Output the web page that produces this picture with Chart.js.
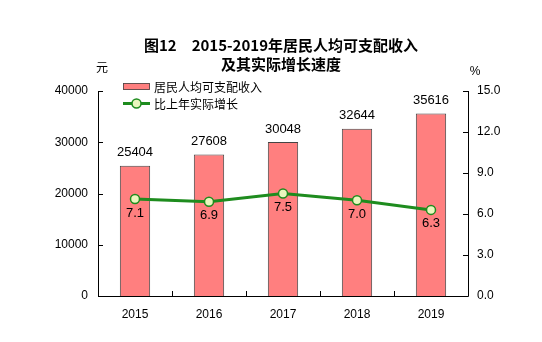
<!DOCTYPE html>
<html>
<head>
<meta charset="utf-8">
<script src="https://cdn.jsdelivr.net/npm/chart.js@4"></script>
<style>
  html, body { margin: 0; padding: 0; background: #fff; }
  #wrap { width: 542px; height: 342px; }
</style>
</head>
<body>
<div id="wrap"><canvas id="c" width="542" height="342"></canvas></div>
<script>
const years = ['2015', '2016', '2017', '2018', '2019'];
const income = [25404, 27608, 30048, 32644, 35616];
const growth = [7.1, 6.9, 7.5, 7.0, 6.3];
const leftTicks = [0, 10000, 20000, 30000, 40000];
const rightTicks = [0, 3, 6, 9, 12, 15];

const titleLines = ['图12　2015-2019年居民人均可支配收入', '及其实际增长速度'];
const legendLabels = ['居民人均可支配收入', '比上年实际增长'];

const BAR_COLOR = '#FF7F7F';
const LINE_COLOR = '#1E8C1E';
const MARKER_FILL = '#EAF7BE';
const NUM_FONT = '"Liberation Sans", Arial, sans-serif';
const CJK_FONT = '"Noto Sans CJK SC", sans-serif';

// Frame, inward tick marks, titles, units, legend and value labels
const decor = {
  id: 'decor',
  afterDatasetsDraw(chart) {
    const ctx = chart.ctx;
    const a = chart.chartArea;
    const x = chart.scales.x, yl = chart.scales.y, yr = chart.scales.y1;
    ctx.save();

    // axis lines
    ctx.strokeStyle = '#000';
    ctx.lineWidth = 1;
    ctx.beginPath();
    ctx.moveTo(Math.round(a.left) + 0.5, a.top);
    ctx.lineTo(Math.round(a.left) + 0.5, Math.round(a.bottom) + 0.5);
    ctx.lineTo(Math.round(a.right) + 0.5, Math.round(a.bottom) + 0.5);
    ctx.lineTo(Math.round(a.right) + 0.5, a.top);
    ctx.stroke();

    // left / right ticks pointing inward
    ctx.beginPath();
    leftTicks.forEach(v => {
      const py = Math.round(yl.getPixelForValue(v)) + 0.5;
      ctx.moveTo(a.left, py); ctx.lineTo(a.left + 5, py);
    });
    rightTicks.forEach(v => {
      const py = Math.round(yr.getPixelForValue(v)) + 0.5;
      ctx.moveTo(a.right, py); ctx.lineTo(a.right - 5, py);
    });
    // x ticks at category boundaries
    for (let i = 1; i < years.length; i++) {
      const px = Math.round((x.getPixelForValue(i - 1) + x.getPixelForValue(i)) / 2) + 0.5;
      ctx.moveTo(px, a.bottom); ctx.lineTo(px, a.bottom - 5);
    }
    ctx.stroke();

    // titles
    ctx.fillStyle = '#000';
    ctx.textAlign = 'center';
    ctx.textBaseline = 'middle';
    ctx.font = 'bold 15px ' + CJK_FONT;
    ctx.fillText(titleLines[0], 281, 45);
    ctx.fillText(titleLines[1], 281, 64);

    // units
    ctx.font = '12px ' + CJK_FONT;
    ctx.fillText('元', 102, 67);
    ctx.font = '12px ' + NUM_FONT;
    ctx.fillText('%', 475, 72);

    // legend
    ctx.fillStyle = BAR_COLOR;
    ctx.fillRect(123, 83, 27, 7);
    ctx.strokeStyle = '#444';
    ctx.lineWidth = 0.8;
    ctx.strokeRect(123.5, 83.5, 26, 6);
    ctx.strokeStyle = LINE_COLOR;
    ctx.lineWidth = 3;
    ctx.beginPath();
    ctx.moveTo(123, 103.5); ctx.lineTo(150, 103.5);
    ctx.stroke();
    ctx.fillStyle = MARKER_FILL;
    ctx.lineWidth = 1.5;
    ctx.beginPath();
    ctx.arc(136.5, 103.5, 4.5, 0, Math.PI * 2);
    ctx.fill(); ctx.stroke();
    ctx.fillStyle = '#000';
    ctx.textAlign = 'left';
    ctx.font = '12px ' + CJK_FONT;
    ctx.fillText(legendLabels[0], 154, 87);
    ctx.fillText(legendLabels[1], 154, 104);

    // value labels
    ctx.textAlign = 'center';
    ctx.font = '13px ' + NUM_FONT;
    const barMeta = chart.getDatasetMeta(0);
    barMeta.data.forEach((el, i) => {
      ctx.fillText(String(income[i]), el.x, el.y - 13);
    });
    const lineMeta = chart.getDatasetMeta(1);
    lineMeta.data.forEach((el, i) => {
      ctx.fillText(growth[i].toFixed(1), el.x, el.y + 14);
    });

    ctx.restore();
  }
};

new Chart(document.getElementById('c'), {
  data: {
    labels: years,
    datasets: [
      {
        type: 'bar',
        data: income,
        yAxisID: 'y',
        backgroundColor: BAR_COLOR,
        borderColor: '#444',
        borderWidth: 1,
        categoryPercentage: 1,
        barPercentage: 0.41,
        order: 2
      },
      {
        type: 'line',
        data: growth,
        yAxisID: 'y1',
        borderColor: LINE_COLOR,
        borderWidth: 3,
        pointRadius: 4.5,
        pointBackgroundColor: MARKER_FILL,
        pointBorderColor: LINE_COLOR,
        pointBorderWidth: 1.5,
        tension: 0,
        order: 1
      }
    ]
  },
  options: {
    responsive: false,
    animation: false,
    layout: { padding: { top: 91, left: 0, right: 0, bottom: 0 } },
    plugins: { legend: { display: false }, title: { display: false }, tooltip: { enabled: false } },
    scales: {
      x: {
        offset: true,
        grid: { display: false, drawTicks: false },
        border: { display: false },
        ticks: { color: '#000', font: { family: NUM_FONT, size: 12 }, padding: 11, maxRotation: 0 },
        afterFit(s) { s.height = 46; }
      },
      y: {
        position: 'left',
        min: 0, max: 40000,
        afterBuildTicks(s) { s.ticks = leftTicks.map(v => ({ value: v })); },
        grid: { display: false, drawTicks: false },
        border: { display: false },
        ticks: {
          color: '#000', font: { family: NUM_FONT, size: 12 }, padding: 10,
          callback: v => String(v)
        },
        afterFit(s) { s.width = 98; }
      },
      y1: {
        position: 'right',
        min: 0, max: 15,
        afterBuildTicks(s) { s.ticks = rightTicks.map(v => ({ value: v })); },
        grid: { display: false, drawTicks: false },
        border: { display: false },
        ticks: {
          color: '#000', font: { family: NUM_FONT, size: 12 }, padding: 9,
          callback: v => Number(v).toFixed(1)
        },
        afterFit(s) { s.width = 74; }
      }
    }
  },
  plugins: [decor]
});
</script>
</body>
</html>
